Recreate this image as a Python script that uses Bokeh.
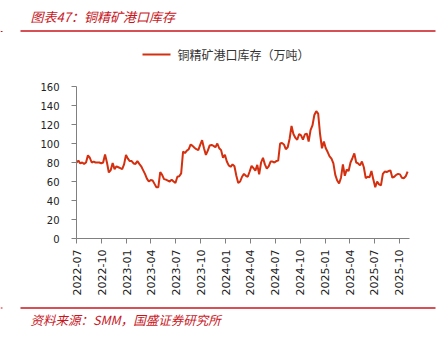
import math
import pandas as pd
from bokeh.plotting import figure
from bokeh.layouts import column, row
from bokeh.models import (ColumnDataSource, Range1d, MonthsTicker, DatetimeTickFormatter,
                          FixedTicker)
from bokeh.core.properties import value
from bokeh.embed import file_html
from bokeh.resources import INLINE

# ---- data (weekly) ----
start_date = "2022-07-01"
inventory = [
    80, 82, 79, 80, 78.5, 80, 87.5, 85, 80, 81,
    80, 80, 80, 79, 80, 88.5, 80, 69.5, 72, 79.5,
    73, 76, 75, 74, 73, 78, 88, 84, 81.5, 81.5,
    79, 78.5, 81.5, 78.5, 76, 72, 68, 63, 60, 61.5,
    61, 57.5, 54, 54, 70, 67, 62.5, 62, 61, 60,
    62, 60, 58.5, 65, 65.5, 68.5, 91.5, 90, 92.5, 94,
    99, 97.5, 95.5, 94, 93, 98.5, 103.5, 95, 88, 92.5,
    98, 98.5, 97.5, 96, 100, 95, 93, 85, 88, 81,
    77, 75.5, 78, 76, 66, 58.5, 60, 65, 68, 66,
    65, 70.5, 76.5, 74, 71.5, 77.5, 67.5, 80, 85, 78,
    73.5, 76, 81, 81, 80, 81.5, 82, 100, 100.5, 99,
    94, 96, 105, 118.5, 110, 106, 104, 110, 108.5, 104,
    109.5, 110.5, 102, 114, 119, 130, 134, 131.5, 110, 95,
    102, 95, 91, 86.5, 84, 79, 67, 61, 58, 64,
    78, 66, 72.5, 71, 80, 84.5, 89.5, 80, 79, 77,
    81, 75, 63.5, 65, 64.5, 71, 62, 54, 60, 57,
    56, 68, 70.5, 70, 71, 71.5, 64, 65, 67, 68,
    67.5, 64, 63.5, 65.5, 70.5,
]
dates = pd.date_range(start=start_date, periods=len(inventory), freq="7D")
y_ticks = [0, 20, 40, 60, 80, 100, 120, 140, 160]
quarter_months = [0, 3, 6, 9]  # BokehJS months are 0-based: Jan, Apr, Jul, Oct

title_text = "图表47：铜精矿港口库存"
legend_text = "铜精矿港口库存（万吨）"
source_text = "资料来源：SMM，国盛证券研究所"

LINE_COLOR = "#d4300f"
RED = "#c8161d"
CJK = "Noto Sans CJK SC"

W = 448
HEAD_H = 70
MAIN_H = 230
FOOT_H = 337 - HEAD_H - MAIN_H


def blank(height):
    f = figure(width=W, height=height, x_range=Range1d(0, W), y_range=Range1d(height, 0),
               output_backend="svg", toolbar_location=None,
               x_axis_location=None, y_axis_location=None,
               min_border=0, min_border_left=0, min_border_right=0,
               min_border_top=0, min_border_bottom=0)
    f.outline_line_color = None
    f.xgrid.visible = False
    f.ygrid.visible = False
    return f


# ---- header: title, red rule, legend ----
head = blank(HEAD_H)
head.text(x=[30], y=[16], text=[title_text], text_font=value(CJK),
          text_font_size="13px", text_font_style="italic", text_color=RED,
          text_baseline="middle", text_align="left")
head.segment(x0=[20], y0=[30.5], x1=[435], y1=[30.5], line_color=RED, line_width=1.5)
head.segment(x0=[0], y0=[31], x1=[2], y1=[31], line_color=RED, line_width=1)
head.segment(x0=[142], y0=[54], x1=[170], y1=[54], line_color=LINE_COLOR, line_width=2)
head.text(x=[177], y=[54], text=[legend_text], text_font=value(CJK),
          text_font_size="12px", text_color="#333333",
          text_baseline="middle", text_align="left")

# ---- main chart ----
src = ColumnDataSource(dict(date=dates, value=inventory))
p = figure(width=W, height=MAIN_H, x_axis_type="datetime",
           x_range=Range1d(pd.Timestamp("2022-07-01"), pd.Timestamp("2025-11-07")),
           y_range=Range1d(0, 160),
           output_backend="svg", toolbar_location=None,
           min_border_left=76, min_border_right=39,
           min_border_top=16, min_border_bottom=62)
p.outline_line_color = None
p.xgrid.visible = False
p.ygrid.visible = False

p.line("date", "value", source=src, line_color=LINE_COLOR, line_width=2,
       legend_label=legend_text)
p.legend.visible = False

p.yaxis.ticker = FixedTicker(ticks=y_ticks)
p.xaxis.ticker = MonthsTicker(months=quarter_months)
fmt = "%Y-%m"
p.xaxis.formatter = DatetimeTickFormatter(months=fmt, days=fmt, years=fmt, hours=fmt,
                                          minutes=fmt, seconds=fmt, milliseconds=fmt,
                                          microseconds=fmt, hourmin=fmt, minsec=fmt)
p.xaxis.major_label_orientation = math.pi / 2
for ax in (p.xaxis[0], p.yaxis[0]):
    ax.axis_line_color = "#808080"
    ax.major_tick_line_color = "#808080"
    ax.minor_tick_line_color = None
    ax.major_tick_in = 0
    ax.major_tick_out = 5
    ax.major_label_text_font = "DejaVu Sans"
    ax.major_label_text_color = "#222222"
p.yaxis.major_label_text_font_size = "10px"
p.xaxis.major_label_text_font_size = "11px"
p.yaxis.major_label_standoff = 12
p.xaxis.major_label_standoff = 6

# ---- footer: red rule and source ----
foot = blank(FOOT_H)
foot.segment(x0=[20], y0=[7.5], x1=[435], y1=[7.5], line_color=RED, line_width=1.5)
foot.segment(x0=[0], y0=[7.5], x1=[2], y1=[7.5], line_color=RED, line_width=1)
foot.text(x=[30], y=[19], text=[source_text], text_font=value(CJK),
          text_font_size="12.5px", text_font_style="italic", text_color=RED,
          text_baseline="middle", text_align="left")

layout = column(row(head), row(p), row(foot), spacing=0)
open("out.html", "w").write(file_html(layout, INLINE))
